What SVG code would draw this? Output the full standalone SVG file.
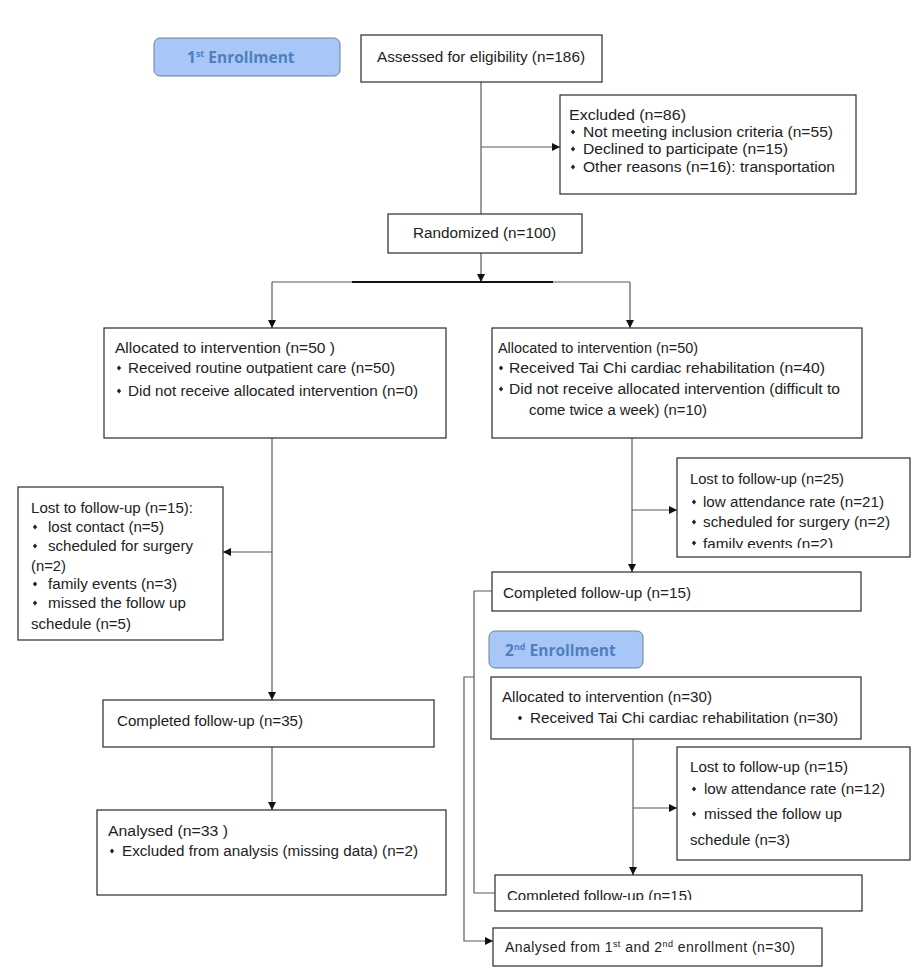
<svg xmlns="http://www.w3.org/2000/svg" width="917" height="975" viewBox="0 0 917 975">
<style>
.box{fill:#fff;stroke:#2a2a2a;stroke-width:1.2}
.badge{fill:#a8c6f6;stroke:#6f7f95;stroke-width:1}
.t{font-family:"Liberation Sans",Arial,sans-serif;font-size:14px;fill:#222}
.bt{font-family:"Open Sans","Noto Sans",sans-serif;font-size:15.5px;font-weight:bold;fill:#4f7fbe}
.sup{font-size:9px}
.ln{fill:none;stroke:#5a5a5a;stroke-width:1.2}
.b{fill:#222}
</style>
<defs>
<marker id="ah" viewBox="0 0 10 10" refX="10" refY="5" markerWidth="8" markerHeight="8" markerUnits="userSpaceOnUse" orient="auto">
<path d="M0,0 L10,5 L0,10 z" fill="#111"/>
</marker>
<path id="bul" d="M0,-2.6 L2.2,0 L0,2.6 L-2.2,0 z"/>
<clipPath id="c25"><rect x="677" y="458" width="233" height="90"/></clipPath>
<clipPath id="cc2"><rect x="495" y="875" width="367" height="25"/></clipPath>
</defs>

<g id="connectors">
<line class="ln" x1="481" y1="82" x2="481" y2="214"/>
<line class="ln" x1="481" y1="147" x2="560" y2="147" marker-end="url(#ah)"/>
<line class="ln" x1="481" y1="253" x2="481" y2="282" marker-end="url(#ah)"/>
<line class="ln" x1="272" y1="282" x2="630" y2="282"/>
<line x1="352" y1="282" x2="553" y2="282" stroke="#111" stroke-width="2"/>
<line class="ln" x1="272" y1="282" x2="272" y2="328" marker-end="url(#ah)"/>
<line class="ln" x1="630" y1="282" x2="630" y2="328" marker-end="url(#ah)"/>
<line class="ln" x1="272" y1="438" x2="272" y2="700" marker-end="url(#ah)"/>
<line class="ln" x1="272" y1="552" x2="223" y2="552" marker-end="url(#ah)"/>
<line class="ln" x1="272" y1="747" x2="272" y2="810" marker-end="url(#ah)"/>
<line class="ln" x1="632" y1="438" x2="632" y2="572" marker-end="url(#ah)"/>
<line class="ln" x1="632" y1="510" x2="677" y2="510" marker-end="url(#ah)"/>
<line class="ln" x1="633" y1="739" x2="633" y2="875" marker-end="url(#ah)"/>
<line class="ln" x1="633" y1="808" x2="677" y2="808" marker-end="url(#ah)"/>
<polyline class="ln" points="492,591 474,591 474,893 495,893"/>
<polyline class="ln" points="474,677 464,677 464,941 493,941" marker-end="url(#ah)"/>
</g>

<g id="enroll1">
<rect class="badge" x="154" y="38" width="186" height="38" rx="6"/>
<text class="bt" x="187" y="63">1<tspan class="sup" dy="-6">st</tspan><tspan dy="6"> Enrollment</tspan></text>
</g>

<g id="assessed">
<rect class="box" x="361" y="35" width="241" height="47"/>
<text class="t" x="377" y="62" textLength="208" lengthAdjust="spacingAndGlyphs">Assessed for eligibility (n=186)</text>
</g>

<g id="excluded">
<rect class="box" x="560" y="95" width="296" height="99"/>
<text class="t" x="569" y="120" textLength="117" lengthAdjust="spacingAndGlyphs">Excluded  (n=86)</text>
<use href="#bul" x="573" y="132" class="b"/>
<text class="t" x="583" y="137" textLength="250" lengthAdjust="spacingAndGlyphs">Not meeting inclusion criteria (n=55)</text>
<use href="#bul" x="573" y="149" class="b"/>
<text class="t" x="583" y="154" textLength="205" lengthAdjust="spacingAndGlyphs">Declined to participate (n=15)</text>
<use href="#bul" x="573" y="167" class="b"/>
<text class="t" x="583" y="172" textLength="252" lengthAdjust="spacingAndGlyphs">Other reasons (n=16): transportation</text>
</g>

<g id="randomized">
<rect class="box" x="388" y="214" width="194" height="39"/>
<text class="t" x="413" y="238" textLength="143" lengthAdjust="spacingAndGlyphs">Randomized (n=100)</text>
</g>

<g id="alloc-left">
<rect class="box" x="104" y="328" width="342" height="110"/>
<text class="t" x="115" y="353" textLength="220" lengthAdjust="spacingAndGlyphs">Allocated to intervention (n=50  )</text>
<use href="#bul" x="119" y="368" class="b"/>
<text class="t" x="128" y="373" textLength="267" lengthAdjust="spacingAndGlyphs">Received routine outpatient care (n=50)</text>
<use href="#bul" x="119" y="391" class="b"/>
<text class="t" x="128" y="396" textLength="290" lengthAdjust="spacingAndGlyphs">Did not receive allocated intervention (n=0)</text>
</g>

<g id="alloc-right">
<rect class="box" x="492" y="328" width="370" height="110"/>
<text class="t" x="498" y="353" textLength="200" lengthAdjust="spacingAndGlyphs">Allocated to intervention (n=50)</text>
<use href="#bul" x="501" y="368" class="b"/>
<text class="t" x="509" y="373" textLength="316" lengthAdjust="spacingAndGlyphs">Received Tai Chi cardiac rehabilitation (n=40)</text>
<use href="#bul" x="501" y="389" class="b"/>
<text class="t" x="509" y="394" textLength="331" lengthAdjust="spacingAndGlyphs">Did not receive allocated intervention (difficult to</text>
<text class="t" x="529" y="415" textLength="178" lengthAdjust="spacingAndGlyphs">come twice a week) (n=10)</text>
</g>

<g id="lost15">
<rect class="box" x="18" y="487" width="205" height="153"/>
<text class="t" x="31" y="513" textLength="162" lengthAdjust="spacingAndGlyphs">Lost to follow-up (n=15):</text>
<use href="#bul" x="35" y="527" class="b"/>
<text class="t" x="48" y="532" textLength="116" lengthAdjust="spacingAndGlyphs">lost contact (n=5)</text>
<use href="#bul" x="35" y="546" class="b"/>
<text class="t" x="48" y="551" textLength="145" lengthAdjust="spacingAndGlyphs">scheduled for surgery</text>
<text class="t" x="31" y="571" textLength="35" lengthAdjust="spacingAndGlyphs">(n=2)</text>
<use href="#bul" x="35" y="584" class="b"/>
<text class="t" x="48" y="589" textLength="129" lengthAdjust="spacingAndGlyphs">family events (n=3)</text>
<use href="#bul" x="35" y="603" class="b"/>
<text class="t" x="48" y="608" textLength="138" lengthAdjust="spacingAndGlyphs">missed the follow up</text>
<text class="t" x="31" y="629" textLength="100" lengthAdjust="spacingAndGlyphs">schedule (n=5)</text>
</g>

<g id="lost25">
<rect class="box" x="677" y="458" width="233" height="99"/>
<g clip-path="url(#c25)">
<text class="t" x="690" y="484" textLength="154" lengthAdjust="spacingAndGlyphs">Lost to follow-up (n=25)</text>
<use href="#bul" x="694" y="502" class="b"/>
<text class="t" x="703" y="507" textLength="181" lengthAdjust="spacingAndGlyphs">low attendance rate (n=21)</text>
<use href="#bul" x="694" y="522" class="b"/>
<text class="t" x="703" y="527" textLength="187" lengthAdjust="spacingAndGlyphs">scheduled for surgery (n=2)</text>
<use href="#bul" x="694" y="543" class="b"/>
<text class="t" x="703" y="549" textLength="130" lengthAdjust="spacingAndGlyphs">family events (n=2)</text>
</g>
</g>

<g id="completed15a">
<rect class="box" x="492" y="572" width="369" height="39"/>
<text class="t" x="503" y="598" textLength="188" lengthAdjust="spacingAndGlyphs">Completed follow-up (n=15)</text>
</g>

<g id="enroll2">
<rect class="badge" x="489" y="631" width="154" height="37" rx="6"/>
<text class="bt" x="505" y="656">2<tspan class="sup" dy="-6">nd</tspan><tspan dy="6"> Enrollment</tspan></text>
</g>

<g id="completed35">
<rect class="box" x="103" y="700" width="331" height="47"/>
<text class="t" x="117" y="726" textLength="186" lengthAdjust="spacingAndGlyphs">Completed follow-up (n=35)</text>
</g>

<g id="alloc30">
<rect class="box" x="491" y="677" width="370" height="62"/>
<text class="t" x="502" y="702" textLength="210" lengthAdjust="spacingAndGlyphs">Allocated to intervention (n=30)</text>
<use href="#bul" x="520" y="718" class="b"/>
<text class="t" x="530" y="723" textLength="308" lengthAdjust="spacingAndGlyphs">Received Tai Chi cardiac rehabilitation (n=30)</text>
</g>

<g id="lost15b">
<rect class="box" x="677" y="747" width="233" height="113"/>
<text class="t" x="690" y="772" textLength="158" lengthAdjust="spacingAndGlyphs">Lost to follow-up (n=15)</text>
<use href="#bul" x="694" y="789" class="b"/>
<text class="t" x="704" y="794" textLength="181" lengthAdjust="spacingAndGlyphs">low attendance rate (n=12)</text>
<use href="#bul" x="694" y="814" class="b"/>
<text class="t" x="704" y="819" textLength="138" lengthAdjust="spacingAndGlyphs">missed the follow up</text>
<text class="t" x="690" y="845" textLength="100" lengthAdjust="spacingAndGlyphs">schedule (n=3)</text>
</g>

<g id="analysed33">
<rect class="box" x="97" y="810" width="349" height="85"/>
<text class="t" x="108" y="836" textLength="120" lengthAdjust="spacingAndGlyphs">Analysed  (n=33 )</text>
<use href="#bul" x="112" y="851" class="b"/>
<text class="t" x="122" y="856" textLength="296" lengthAdjust="spacingAndGlyphs">Excluded from analysis (missing data) (n=2)</text>
</g>

<g id="completed15b">
<rect class="box" x="495" y="875" width="367" height="36"/>
<g clip-path="url(#cc2)">
<text class="t" x="507" y="901" textLength="185" lengthAdjust="spacingAndGlyphs">Completed follow-up (n=15)</text>
</g>
</g>

<g id="analysed30">
<rect class="box" x="493" y="928" width="329" height="38"/>
<text class="t" x="505" y="952" letter-spacing="0.45">Analysed from 1<tspan class="sup" dy="-5">st</tspan><tspan dy="5"> and 2</tspan><tspan class="sup" dy="-5">nd</tspan><tspan dy="5"> enrollment (n=30)</tspan></text>
</g>
</svg>
